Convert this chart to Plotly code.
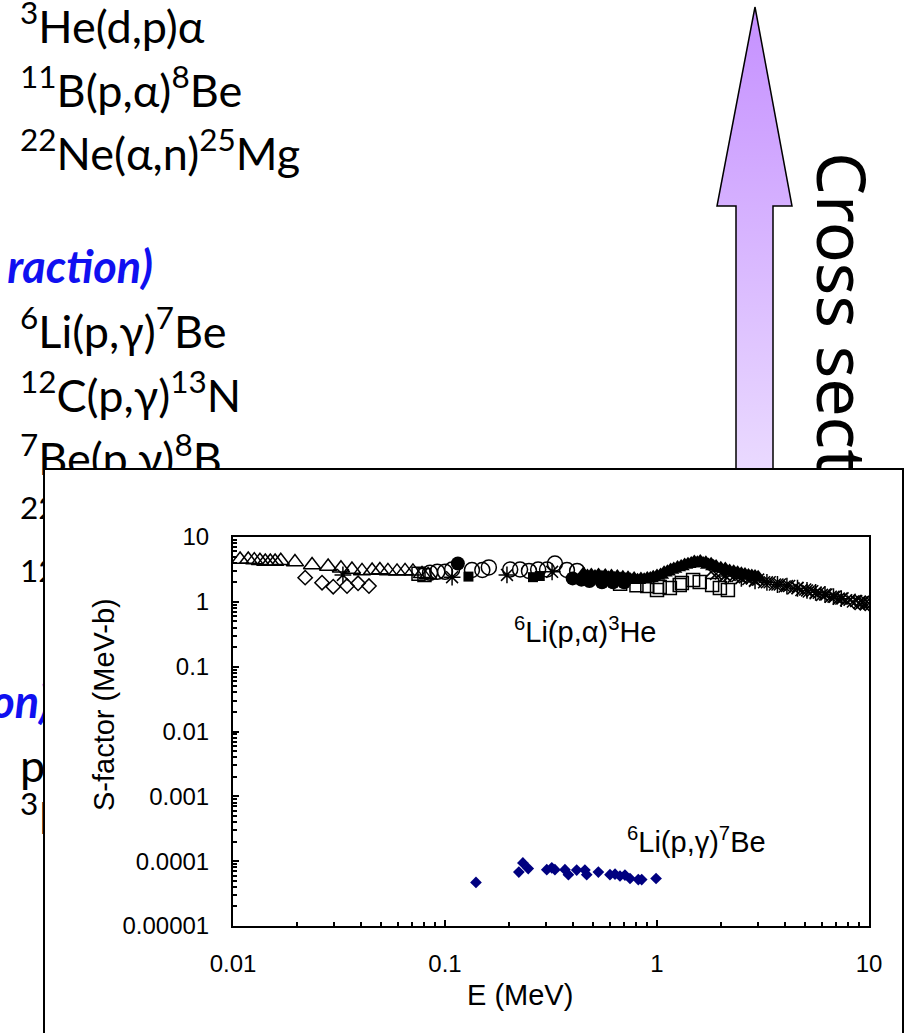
import plotly.graph_objects as go

W, H = 905, 1033

# ---------------- 6Li(p,alpha)3He S-factor data sets (E in MeV, S in MeV-b)
tri_open_E = [0.0108, 0.0118, 0.0126, 0.0134, 0.0142, 0.0150, 0.0158, 0.0168, 0.0196,
              0.0236, 0.0281, 0.0323, 0.0364, 0.0406, 0.0453, 0.0493, 0.0538, 0.0594,
              0.0648, 0.0706, 0.0779, 0.0832]
tri_open_S = [4.5, 4.5, 4.4, 4.3, 4.2, 4.2, 4.2, 4.3, 4.1,
              3.7, 3.5, 3.3, 3.15, 3.0, 3.05, 3.1, 3.0, 2.95,
              3.0, 2.95, 2.7, 2.6]

dia_open_E = [0.0219, 0.0263, 0.0297, 0.0345, 0.0389, 0.0438]
dia_open_S = [2.36, 1.97, 1.71, 1.75, 1.93, 1.75]

circ_open_E = [0.085, 0.092, 0.100, 0.108, 0.134, 0.150, 0.161, 0.203, 0.226,
               0.249, 0.275, 0.303, 0.330, 0.376, 0.420]
circ_open_S = [2.8, 2.9, 2.9, 3.15, 3.1, 3.1, 3.4, 3.15, 3.15,
               3.0, 3.15, 3.15, 3.9, 3.1, 3.0]

circ_fill_E = [0.115, 0.40, 0.44, 0.48, 0.55, 0.62, 0.70]
circ_fill_S = [3.9, 2.3, 2.2, 2.1, 2.0, 2.0, 2.0]

sq_fill_E = [0.129, 0.26, 0.28]
sq_fill_S = [2.45, 2.4, 2.5]

aster_E = [0.033, 0.108, 0.196, 0.32, 2.1, 2.5, 2.9, 3.3, 3.7, 4.1, 4.6, 5.1, 5.6, 6.2, 6.8, 7.4]
aster_S = [2.6, 2.4, 2.6, 2.9, 2.5, 2.3, 2.1, 2.0, 1.85, 1.75, 1.62, 1.5, 1.4, 1.3, 1.2, 1.12]

sq_open_E = [0.075, 0.080, 0.67, 0.80, 0.90, 1.00, 1.03, 1.15, 1.28, 1.31, 1.48, 1.59, 1.82, 1.98, 2.16]
sq_open_S = [2.7, 2.6, 1.9, 1.8, 1.75, 1.52, 1.7, 1.64, 1.82, 1.95, 2.17, 2.02, 1.82, 1.64, 1.52]

tri_fill_E = [0.45, 0.47, 0.49, 0.51, 0.53, 0.55, 0.57, 0.59, 0.61, 0.63,
              0.65, 0.67, 0.69, 0.71, 0.73, 0.75, 0.78, 0.81, 0.84, 0.87,
              0.90, 0.93, 0.96, 1.00, 1.04, 1.08, 1.12, 1.16, 1.20, 1.25,
              1.30, 1.35, 1.40, 1.45, 1.50, 1.55, 1.60, 1.65, 1.70, 1.75,
              1.80, 1.85, 1.90, 2.00, 2.10, 2.20, 2.30, 2.40, 2.50, 2.60,
              2.70, 2.80, 2.90, 3.00]
tri_fill_S = [2.7, 2.5, 2.6, 2.45, 2.6, 2.4, 2.55, 2.35, 2.5, 2.3,
              2.45, 2.25, 2.4, 2.2, 2.35, 2.2, 2.3, 2.15, 2.25, 2.2,
              2.3, 2.3, 2.4, 2.5, 2.6, 2.8, 2.9, 3.1, 3.2, 3.4,
              3.5, 3.7, 3.8, 3.9, 4.1, 4.0, 4.2, 3.9, 4.0, 3.7,
              3.8, 3.5, 3.5, 3.3, 3.2, 3.0, 2.9, 2.8, 2.7, 2.65,
              2.55, 2.5, 2.45, 2.4]

x_E = [1.8, 1.9, 2.0, 2.1, 2.2, 2.3, 2.4, 2.5, 2.6, 2.7, 2.8, 2.9, 3.0, 3.2, 3.4, 3.6,
       3.8, 4.0, 4.2, 4.4, 4.6, 4.8, 5.0, 5.2, 5.4, 5.6, 5.8, 6.0, 6.3, 6.6, 6.9, 7.2,
       7.5, 7.8, 8.1, 8.4, 8.7, 9.0, 9.3, 9.6, 10.0]
x_S = [2.9, 2.7, 2.75, 2.55, 2.6, 2.45, 2.5, 2.35, 2.4, 2.25, 2.3, 2.15, 2.2, 2.0, 2.0, 1.85,
       1.85, 1.72, 1.75, 1.62, 1.64, 1.52, 1.55, 1.44, 1.46, 1.36, 1.38, 1.28, 1.3, 1.2, 1.2, 1.12,
       1.13, 1.06, 1.08, 1.01, 1.03, 0.97, 0.98, 0.95, 0.95]

dx_E = [8.6, 9.1, 9.6, 10.0]
dx_S = [0.98, 0.97, 0.95, 0.95]

# ---------------- 6Li(p,gamma)7Be
pg_E = [0.14, 0.223, 0.233, 0.247, 0.302, 0.319, 0.330, 0.368, 0.382, 0.418, 0.457,
        0.466, 0.529, 0.600, 0.634, 0.669, 0.706, 0.746, 0.816, 0.847, 0.99]
pg_S = [4.7e-5, 6.8e-5, 9.4e-5, 7.7e-5, 7.4e-5, 7.9e-5, 7.4e-5, 7.4e-5, 6.2e-5, 7.3e-5, 7.3e-5,
        6.2e-5, 6.8e-5, 6.2e-5, 6.3e-5, 5.9e-5, 6.1e-5, 5.4e-5, 5.2e-5, 5.2e-5, 5.4e-5]

y_tickvals = [1e-5, 1e-4, 1e-3, 1e-2, 1e-1, 1, 10]
y_ticktext = ["0.00001", "0.0001", "0.001", "0.01", "0.1", "1", "10"]
x_tickvals = [0.01, 0.1, 1, 10]
x_ticktext = ["0.01", "0.1", "1", "10"]

# ---------------- slide text (text, x of left edge, baseline y)
slide_lines = [
    ("<sup>3</sup>He(d,p)α", 20, 43),
    ("<sup>11</sup>B(p,α)<sup>8</sup>Be", 20, 107),
    ("<sup>22</sup>Ne(α,n)<sup>25</sup>Mg", 20, 170),
    ("<sup>6</sup>Li(p,γ)<sup>7</sup>Be", 20, 348),
    ("<sup>12</sup>C(p,γ)<sup>13</sup>N", 20, 412),
    ("<sup>7</sup>Be(p,γ)<sup>8</sup>B", 20, 475),
    ("<sup>22</sup>Ne", 20, 538),
    ("<sup>12</sup>C", 20, 601),
    ("p", 20, 782),
    ("<sup>3</sup>He", 20, 834),
]
# (text, x of right edge, baseline y)
blue_lines = [("<b><i>raction)</i></b>", 153, 283), ("<b><i>on)</i></b>", 51, 718)]

SLIDE_FS = 45
BLUE = "#1010F0"


def px(x):
    return x / W


def py(y):
    return 1 - y / H


fig = go.Figure()

# --- background slide layer (subplot 1, pixel coordinates)
fig.add_trace(go.Scatter(
    x=[t[1] for t in slide_lines],
    y=[t[2] - 0.25 * SLIDE_FS for t in slide_lines],
    text=[t[0] for t in slide_lines],
    mode="text", textposition="middle right",
    textfont=dict(family="Lato, Carlito, sans-serif", size=SLIDE_FS, color="black"),
    xaxis="x", yaxis="y", showlegend=False, hoverinfo="skip", cliponaxis=False))
fig.add_trace(go.Scatter(
    x=[t[1] for t in blue_lines],
    y=[t[2] - 0.25 * SLIDE_FS for t in blue_lines],
    text=[t[0] for t in blue_lines],
    mode="text", textposition="middle left",
    textfont=dict(family="Lato, Carlito, sans-serif", size=SLIDE_FS, color=BLUE),
    xaxis="x", yaxis="y", showlegend=False, hoverinfo="skip", cliponaxis=False))

# arrow pointing up
arrow_x = [755, 792, 773, 773, 736, 736, 717, 755]
arrow_y = [7, 206, 206, 520, 520, 206, 206, 7]
fig.add_trace(go.Scatter(
    x=arrow_x, y=arrow_y, mode="lines", fill="toself",
    line=dict(color="black", width=1.5),
    fillgradient=dict(type="vertical",
                      colorscale=[[0, "#EEE2FF"], [1, "#C590FF"]]),
    xaxis="x", yaxis="y", showlegend=False, hoverinfo="skip"))

# --- rotated caption subplot (its tick label carries the text)
fig.add_trace(go.Scatter(x=[], y=[], xaxis="x2", yaxis="y2", showlegend=False))
# --- white inset panel
fig.add_trace(go.Scatter(x=[], y=[], xaxis="x3", yaxis="y3", showlegend=False))

# --- S-factor chart
mk = dict(xaxis="x4", yaxis="y4", mode="markers", showlegend=False, cliponaxis=True)
fig.add_trace(go.Scatter(x=sq_open_E, y=sq_open_S,
                         marker=dict(symbol="square-open", size=13, color="black", line=dict(width=1.5)), **mk))
fig.add_trace(go.Scatter(x=x_E, y=x_S,
                         marker=dict(symbol="x-thin-open", size=12, color="black", line=dict(width=1.5)), **mk))
fig.add_trace(go.Scatter(x=aster_E, y=aster_S,
                         marker=dict(symbol="asterisk-open", size=14, color="black", line=dict(width=1.5)), **mk))
fig.add_trace(go.Scatter(x=dx_E, y=dx_S,
                         marker=dict(symbol="diamond-open", size=11, color="black", line=dict(width=1.5)), **mk))
fig.add_trace(go.Scatter(x=tri_fill_E, y=tri_fill_S,
                         marker=dict(symbol="triangle-up", size=15, color="black"), **mk))
fig.add_trace(go.Scatter(x=circ_fill_E, y=circ_fill_S,
                         marker=dict(symbol="circle", size=14, color="black"), **mk))
fig.add_trace(go.Scatter(x=sq_fill_E, y=sq_fill_S,
                         marker=dict(symbol="square", size=10, color="black"), **mk))
fig.add_trace(go.Scatter(x=circ_open_E, y=circ_open_S,
                         marker=dict(symbol="circle-open", size=15, color="black", line=dict(width=1.5)), **mk))
fig.add_trace(go.Scatter(x=dia_open_E, y=dia_open_S,
                         marker=dict(symbol="diamond-open", size=11, color="black", line=dict(width=1.5)), **mk))
fig.add_trace(go.Scatter(x=tri_open_E, y=tri_open_S,
                         marker=dict(symbol="triangle-up-open", size=15, color="black", line=dict(width=1.5)), **mk))
fig.add_trace(go.Scatter(x=pg_E, y=pg_S,
                         marker=dict(symbol="diamond", size=9, color="#000080"), **mk))

hidden = dict(visible=False, showgrid=False, zeroline=False, automargin=False)
AX_FONT = dict(family="Arial, Liberation Sans, sans-serif", size=24, color="black")

fig.update_layout(
    width=W, height=H,
    margin=dict(l=0, r=0, t=0, b=0),
    paper_bgcolor="white", plot_bgcolor="white",
    xaxis=dict(domain=[0, 1], range=[0, W], **hidden),
    yaxis=dict(domain=[0, 1], range=[H, 0], **hidden),
    xaxis2=dict(domain=[px(837), px(841)], range=[-1, 1], anchor="y2",
                tickvals=[0], ticktext=["Cross section"], tickangle=90, ticks="",
                tickfont=dict(family="Noto Sans, sans-serif", size=68, color="black"),
                showline=False, showgrid=False, zeroline=False, automargin=False),
    yaxis2=dict(domain=[py(151), py(149)], anchor="x2", **hidden),
    xaxis3=dict(domain=[px(45), px(902)], range=[0, 1], anchor="y3", side="top",
                showline=True, linecolor="black", linewidth=1.5, mirror=False,
                showticklabels=False, ticks="", showgrid=False, zeroline=False, automargin=False),
    yaxis3=dict(domain=[0, py(470)], range=[0, 1], anchor="x3",
                showline=True, linecolor="black", linewidth=1.5, mirror=True,
                showticklabels=False, ticks="", showgrid=False, zeroline=False, automargin=False),
    xaxis4=dict(domain=[px(233), px(869)], type="log", range=[-2, 1], anchor="y4",
                tickvals=x_tickvals, ticktext=x_ticktext, tickfont=AX_FONT,
                ticks="inside", ticklen=6, tickwidth=1.5, tickcolor="black",
                minor=dict(ticks="inside", ticklen=4, tickwidth=1.5, tickcolor="black",
                           tickvals=[m * 10 ** k for k in range(-2, 1) for m in range(2, 10)],
                           showgrid=False),
                ticklabelstandoff=15,
                showline=True, linecolor="black", linewidth=2, mirror=True,
                showgrid=False, zeroline=False, automargin=False),
    yaxis4=dict(domain=[py(926), py(537)], type="log", range=[-5, 1], anchor="x4",
                tickvals=y_tickvals, ticktext=y_ticktext, tickfont=AX_FONT,
                ticks="inside", ticklen=6, tickwidth=1.5, tickcolor="black",
                minor=dict(ticks="inside", ticklen=4, tickwidth=1.5, tickcolor="black",
                           tickvals=[m * 10 ** k for k in range(-5, 1) for m in range(2, 10)],
                           showgrid=False),
                ticklabelstandoff=17,
                showline=True, linecolor="black", linewidth=2, mirror=True,
                showgrid=False, zeroline=False, automargin=False),
)

LBL_FONT = dict(family="Arial, Liberation Sans, sans-serif", size=29, color="black")
fig.add_annotation(text="<sup>6</sup>Li(p,α)<sup>3</sup>He", x=px(512), y=py(630),
                   xref="paper", yref="paper", xanchor="left", yanchor="middle",
                   showarrow=False, font=LBL_FONT)
fig.add_annotation(text="<sup>6</sup>Li(p,γ)<sup>7</sup>Be", x=px(625), y=py(840),
                   xref="paper", yref="paper", xanchor="left", yanchor="middle",
                   showarrow=False, font=LBL_FONT)
fig.add_annotation(text="E (MeV)", x=px(520), y=py(995),
                   xref="paper", yref="paper", xanchor="center", yanchor="middle",
                   showarrow=False, font=LBL_FONT)
fig.add_annotation(text="S-factor (MeV-b)", x=px(104), y=py(705), textangle=-90,
                   xref="paper", yref="paper", xanchor="center", yanchor="middle",
                   showarrow=False, font=LBL_FONT)

fig.write_html("out.html")
